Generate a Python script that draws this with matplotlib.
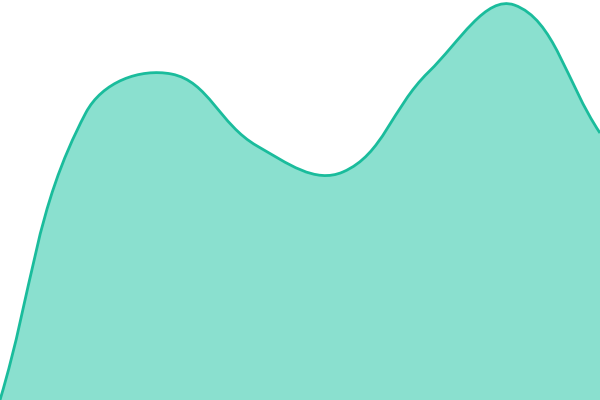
import numpy as np
import matplotlib
matplotlib.use("Agg")
import matplotlib.pyplot as plt
from matplotlib.path import Path
from matplotlib.patches import PathPatch
from matplotlib.transforms import IdentityTransform

# data (one point per slot)
labels = ["1", "2", "3", "4", "5", "6", "7", "8"]
values = [0, 287, 326, 254, 228, 328, 395, 267]

line_color = "#1abc9c"
fill_color = "#8ae0cf"
tension = 0.4

fig = plt.figure(figsize=(6, 4), dpi=100)
ax = fig.add_axes([0, 0, 1, 1])
ax.set_xlim(0, len(values) - 1)
ax.set_ylim(0, 400)
ax.axis("off")

# go to pixel space so the spline control points match a canvas-style curve
pts = ax.transData.transform(np.column_stack([np.arange(len(values)), values]))

def control_points(p):
    n = len(p)
    cps = []
    for i in range(n):
        prev = p[max(i - 1, 0)]
        cur = p[i]
        nxt = p[min(i + 1, n - 1)]
        d01 = np.hypot(*(cur - prev))
        d12 = np.hypot(*(nxt - cur))
        tot = d01 + d12
        s01 = d01 / tot if tot else 0
        s12 = d12 / tot if tot else 0
        cps.append((cur - tension * s01 * (nxt - prev), cur + tension * s12 * (nxt - prev)))
    return cps

cps = control_points(pts)
verts = [pts[0]]
codes = [Path.MOVETO]
for i in range(1, len(pts)):
    verts += [cps[i - 1][1], cps[i][0], pts[i]]
    codes += [Path.CURVE4] * 3
line_path = Path(verts, codes)

base = ax.transData.transform([[len(values) - 1, 0], [0, 0]])
fill_path = Path(verts + [base[0], base[1], pts[0]],
                 codes + [Path.LINETO, Path.LINETO, Path.CLOSEPOLY])

ax.add_patch(PathPatch(fill_path, transform=IdentityTransform(),
                       facecolor=fill_color, edgecolor="none"))
ax.add_patch(PathPatch(line_path, transform=IdentityTransform(),
                       facecolor="none", edgecolor=line_color, lw=2.0))

fig.savefig("out.png", dpi=100)
